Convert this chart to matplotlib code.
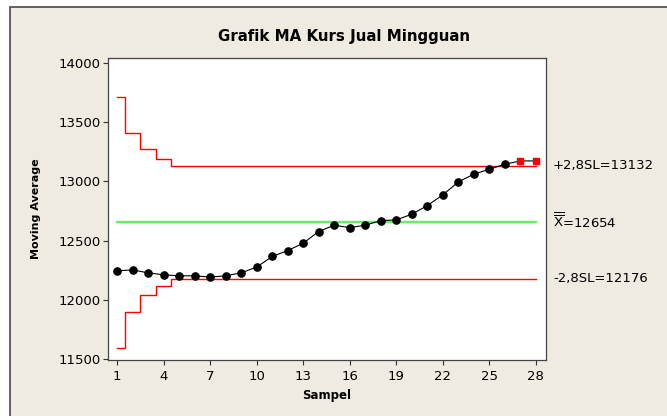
import numpy as np
import matplotlib
matplotlib.use('Agg')
import matplotlib.pyplot as plt
from matplotlib.patches import Rectangle
from matplotlib.transforms import blended_transform_factory

# data grafik MA
sampel = np.arange(1, 29)
ma = [12245, 12253, 12228, 12211, 12203, 12203, 12192, 12203, 12228, 12276,
      12366, 12416, 12478, 12577, 12630, 12610, 12630, 12669, 12675, 12723,
      12796, 12886, 12996, 13061, 13103, 13145, 13173, 13173]
ucl = [13712, 13410, 13271, 13188] + [13132] * 24
lcl = [11596, 11898, 12037, 12120] + [12176] * 24
center = 12654
out_idx = [26, 27]  # titik di luar batas
x_ticks = [1, 4, 7, 10, 13, 16, 19, 22, 25, 28]
y_ticks = [11500, 12000, 12500, 13000, 13500, 14000]

W, H = 667, 416
fig = plt.figure(figsize=(W / 100, H / 100), dpi=100, facecolor='white')

# bingkai latar krem
fig.patches.append(Rectangle((10 / W, -0.1), 1.1, 1.1 - 7 / H,
                             transform=fig.transFigure, facecolor='#EFEBE1',
                             edgecolor='#555555', linewidth=1.3, zorder=-5))

ax = fig.add_axes([108 / W, 56 / H, 438 / W, 302 / H])
ax.set_facecolor('white')

ax.step(sampel, ucl, where='mid', color='#FF0000', lw=1.0, zorder=2)
ax.step(sampel, lcl, where='mid', color='#FF0000', lw=1.0, zorder=2)
ax.plot([sampel[0], sampel[-1]], [center, center], color='#66EE66', lw=1.7, zorder=2)

ax.plot(sampel, ma, color='black', lw=0.8, zorder=3)
normal = [i for i in range(len(ma)) if i not in out_idx]
ax.plot(sampel[normal], np.array(ma)[normal], 'o', color='black', ms=5.2, zorder=4)
ax.plot(sampel[out_idx], np.array(ma)[out_idx], 's', color='#FF0000', ms=5, zorder=4)

ax.set_xlim(0.42, 28.65)
ax.set_ylim(11492, 14042)
ax.set_xticks(x_ticks)
ax.set_yticks(y_ticks)
ax.tick_params(direction='out', length=3.5, width=0.8, color='#333333', labelsize=9.5, pad=2)
ax.tick_params(axis='x', pad=4)
for s in ax.spines.values():
    s.set_color('#444444')
    s.set_linewidth(0.9)

ax.set_xlabel('Sampel', fontsize=8.5, fontweight='bold', labelpad=4)
ax.set_ylabel('Moving Average', fontsize=8, fontweight='bold', labelpad=12)
fig.text(344 / W, 1 - 36 / H, 'Grafik MA Kurs Jual Mingguan', ha='center', va='center',
         fontsize=10.8, fontweight='bold')

# label batas kendali
tr = blended_transform_factory(fig.transFigure, ax.transData)
tx = 553 / W
ax.text(tx, ucl[-1], '+2,8SL=13132', transform=tr, va='center', ha='left', fontsize=9.5)
ax.text(tx, center - 75, r'$\overline{\overline{\mathrm{X}}}$=12654', transform=tr,
        va='bottom', ha='left', fontsize=9.5)
ax.text(tx, lcl[-1], '-2,8SL=12176', transform=tr, va='center', ha='left', fontsize=9.5)

fig.savefig('out.png', dpi=100, facecolor=fig.get_facecolor())
